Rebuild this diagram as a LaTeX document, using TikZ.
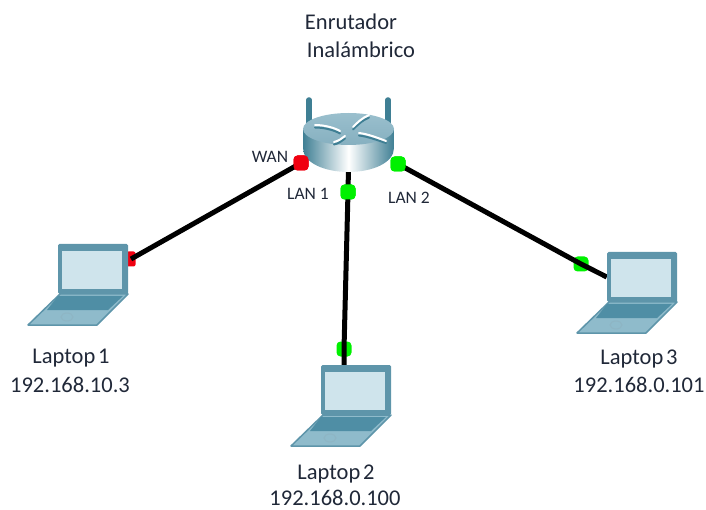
\documentclass[tikz,border=0pt]{standalone}
\usepackage{fontspec}
\setmainfont{Carlito}
\usetikzlibrary{shapes.geometric}
\definecolor{lapedge}{HTML}{5E95AA}
\definecolor{lapscreen}{HTML}{CFE4EC}
\definecolor{lapdeck}{HTML}{8FBBCB}
\definecolor{lapkeys}{HTML}{4F8EA5}
\definecolor{rdark}{HTML}{3F7F94}
\definecolor{rmid}{HTML}{86B0C0}
\definecolor{rtop}{HTML}{9ABFCD}
\definecolor{portgreen}{HTML}{00F000}
\definecolor{portred}{HTML}{F00010}
\definecolor{labelc}{HTML}{202838}
\tikzset{
  link/.style={line width=5pt,black},
  portg/.style={fill=portgreen,draw=none,rounded corners=4pt,minimum size=15pt,inner sep=0pt,shape=rectangle},
  portr/.style={fill=portred,draw=none,rounded corners=4pt,minimum size=15pt,inner sep=0pt,shape=rectangle},
  bigtext/.style={font=\fontsize{22.5}{26}\selectfont,text=labelc,inner sep=0pt,align=center},
  smalltext/.style={font=\fontsize{17.5}{20}\selectfont,text=labelc,inner sep=0pt},
  anchorbox/.style={minimum width=70pt,minimum height=50pt,inner sep=0pt,draw=none},
  antenna/.style={line width=5.5pt,rdark,line cap=round},
  laptop/.pic={
    \fill[lapdeck,draw=lapedge,line width=1.5pt,line join=round] (2,50) -- (70,50) -- (39,81) -- (-30,81) -- cycle;
    \fill[lapkeys] (0,52) -- (65,52) -- (50,66) -- (-11,66) -- cycle;
    \draw[lapedge!70!white,line width=1pt] (9,73) ellipse (6 and 4);
    \fill[lapedge,rounded corners=1.5pt] (0,0) rectangle (70,50);
    \fill[lapscreen] (4,7) rectangle (64,45);
  }
}
\begin{document}
\begin{tikzpicture}[x=1pt,y=-1pt]
\useasboundingbox (0,0) rectangle (706,510);
\node[anchorbox] (router) at (349,142) {};
\node[anchorbox] (lap1) at (93,269) {};
\node[anchorbox] (lap2) at (356,390) {};
\node[anchorbox] (lap3) at (642,277) {};
\node[portr] (pwan) at (301,163) {};
\node[portg] (plan1) at (348,192) {};
\node[portg] (plan2) at (398,164) {};
\node[portg] (pl2) at (344,349) {};
\node[portg] (pl3) at (581,264) {};
\node[portr,minimum width=9pt,minimum height=15pt,rounded corners=2pt] (pl1) at (131,259) {};
\draw[link] (pwan.center) -- (pl1.center);
\draw[link] (router.center) -- (plan1.center) -- (pl2.center) -- (lap2.north -| pl2);
\draw[link] (plan2.center) -- (pl3.center) -- (lap3.west);
\pic at (58,244) {laptop};
\pic at (321,365) {laptop};
\pic at (607,252) {laptop};
% router
\draw[antenna] (309,100) -- (309,128);
\draw[antenna] (388,100) -- (388,128);
\shade[left color=rdark,right color=rdark,middle color=white]
  (303,130) -- (303,148) .. controls (303,163) and (325,172) .. (348.5,172)
  .. controls (372,172) and (394,163) .. (394,148) -- (394,130) -- cycle;
\shade[top color=rtop,bottom color=rmid] (348.5,129) ellipse (45.5 and 16);
\begin{scope}[rdark,line width=2pt,line cap=round]
\draw (315,127.5) .. controls (325,127.5) and (335,130.5) .. (340,133.5);
\draw (369,117.5) .. controls (362,120.5) and (358,124.5) .. (353,129.5);
\draw (359,135.5) .. controls (368,136.5) and (378,140.5) .. (386,143);
\draw (334,144.5) .. controls (339,143.5) and (342,140.5) .. (345,138.5);
\end{scope}
\begin{scope}[white,line width=2pt,line cap=round]
\draw (315,125) .. controls (325,125) and (335,128) .. (340,131);
\draw (369,115) .. controls (362,118) and (358,122) .. (353,127);
\draw (359,133) .. controls (368,134) and (378,138) .. (386,141);
\draw (334,142) .. controls (339,141) and (342,138) .. (345,136);
\end{scope}
\node[portr] at (pwan) {};
\node[portg] at (plan1) {};
\node[portg] at (plan2) {};
\node[bigtext] (t0) at (351,22) {Enrutador};
\node[bigtext] (t0b) at (361,50) {Inalámbrico};
\node[smalltext] (tw) at (270,157) {WAN};
\node[smalltext] (tl1) at (308,194) {LAN 1};
\node[smalltext] (tl2) at (409,198) {LAN 2};
\node[bigtext] (t1) at (71,358) {Laptop\kern.12em 1};
\node[bigtext] (t1b) at (70,385) {192.168.10.3};
\node[bigtext] (t2) at (336,474) {Laptop\kern.12em 2};
\node[bigtext] (t2b) at (335,498) {192.168.0.100};
\node[bigtext] (t3) at (639,359) {Laptop\kern.12em 3};
\node[bigtext] (t3b) at (639,385) {192.168.0.101};
\end{tikzpicture}
\end{document}
